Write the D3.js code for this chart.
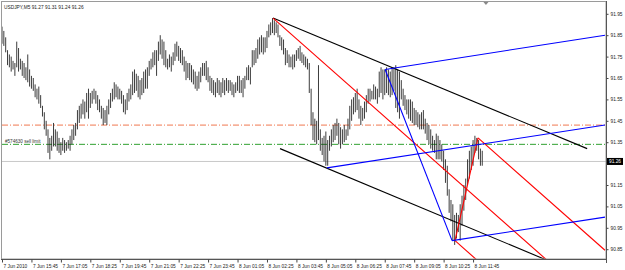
<!DOCTYPE html>
<html><head><meta charset="utf-8">
<script src="https://cdn.jsdelivr.net/npm/d3@7"></script>
<style>body{margin:0;background:#fff}svg{display:block}text{font-family:"Liberation Sans",Arial,sans-serif}</style>
</head><body><svg id="c" width="625" height="270"></svg>
<script>
// ---------- data ----------
const titleText = "USDJPY,M5  91.27 91.31 91.24 91.26";
const highs = [91.89,91.87,91.84,91.78,91.76,91.75,91.73,91.72,91.82,91.79,
91.74,91.73,91.72,91.70,91.76,91.69,91.66,91.65,91.62,91.60,
91.61,91.57,91.52,91.49,91.45,91.41,91.37,91.38,91.44,91.41,
91.40,91.37,91.35,91.37,91.36,91.35,91.36,91.38,91.41,91.43,
91.44,91.50,91.52,91.53,91.55,91.54,91.58,91.60,91.58,91.59,
91.60,91.59,91.57,91.55,91.52,91.51,91.50,91.52,91.55,91.58,
91.60,91.63,91.62,91.61,91.60,91.59,91.57,91.55,91.58,91.60,
91.62,91.68,91.69,91.67,91.66,91.64,91.65,91.68,91.69,91.70,
91.73,91.74,91.77,91.78,91.78,91.82,91.85,91.83,91.82,91.78,
91.74,91.76,91.75,91.77,91.81,91.82,91.80,91.79,91.78,91.75,
91.73,91.72,91.72,91.71,91.69,91.68,91.66,91.68,91.70,91.72,
91.72,91.73,91.70,91.66,91.65,91.64,91.63,91.65,91.64,91.63,
91.65,91.64,91.65,91.64,91.64,91.63,91.62,91.63,91.66,91.66,
91.64,91.65,91.66,91.70,91.71,91.70,91.78,91.78,91.79,91.83,
91.84,91.85,91.84,91.84,91.87,91.90,91.91,91.93,91.92,91.91,
91.90,91.85,91.84,91.83,91.79,91.78,91.76,91.75,91.76,91.76,
91.78,91.79,91.80,91.77,91.76,91.75,91.74,91.72,91.60,91.49,
91.46,91.45,91.71,91.41,91.37,91.38,91.40,91.36,91.38,91.41,
91.43,91.44,91.46,91.44,91.42,91.41,91.43,91.41,91.46,91.52,
91.55,91.56,91.58,91.60,91.55,91.52,91.51,91.54,91.57,91.60,
91.60,91.59,91.62,91.61,91.60,91.68,91.70,91.69,91.69,91.70,
91.69,91.68,91.70,91.70,91.71,91.69,91.68,91.64,91.60,91.57,
91.55,91.55,91.55,91.54,91.51,91.50,91.49,91.48,91.49,91.50,
91.46,91.44,91.43,91.41,91.38,91.36,91.39,91.38,91.36,91.34,
91.31,91.27,91.24,91.13,91.08,91.06,91.01,91.02,91.01,91.06,
91.10,91.15,91.18,91.27,91.31,91.33,91.36,91.38,91.37,91.36,
91.32,91.31];
const lows = [91.81,91.80,91.77,91.71,91.70,91.68,91.69,91.66,91.70,91.68,
91.69,91.66,91.65,91.64,91.63,91.61,91.60,91.59,91.56,91.55,
91.53,91.51,91.47,91.41,91.38,91.30,91.27,91.31,91.33,91.33,
91.31,91.30,91.29,91.31,91.30,91.31,91.32,91.31,91.34,91.36,
91.38,91.41,91.44,91.46,91.48,91.46,91.49,91.46,91.51,91.53,
91.55,91.53,91.50,91.49,91.46,91.43,91.44,91.43,91.48,91.51,
91.54,91.55,91.56,91.55,91.55,91.53,91.49,91.48,91.50,91.54,
91.55,91.57,91.58,91.59,91.56,91.55,91.57,91.58,91.60,91.60,
91.66,91.69,91.70,91.71,91.66,91.73,91.76,91.74,91.71,91.70,
91.69,91.70,91.68,91.71,91.73,91.75,91.73,91.72,91.71,91.68,
91.64,91.65,91.64,91.63,91.62,91.60,91.59,91.60,91.63,91.66,
91.66,91.64,91.63,91.59,91.58,91.57,91.56,91.58,91.57,91.56,
91.58,91.57,91.59,91.58,91.59,91.57,91.56,91.58,91.59,91.58,
91.58,91.56,91.60,91.64,91.64,91.62,91.70,91.71,91.72,91.74,
91.76,91.77,91.76,91.77,91.79,91.84,91.85,91.86,91.85,91.86,
91.84,91.80,91.78,91.76,91.71,91.72,91.70,91.70,91.69,91.70,
91.73,91.74,91.73,91.72,91.71,91.70,91.69,91.58,91.43,91.36,
91.35,91.34,91.36,91.31,91.29,91.26,91.24,91.24,91.31,91.33,
91.35,91.36,91.38,91.34,91.32,91.34,91.35,91.36,91.38,91.41,
91.45,91.48,91.49,91.50,91.46,91.43,91.45,91.46,91.49,91.53,
91.54,91.55,91.55,91.55,91.53,91.56,91.58,91.55,91.57,91.58,
91.57,91.56,91.57,91.59,91.51,91.49,91.46,91.55,91.52,91.50,
91.48,91.46,91.45,91.44,91.43,91.43,91.42,91.41,91.41,91.41,
91.39,91.36,91.34,91.32,91.31,91.30,91.27,91.27,91.27,91.26,
91.22,91.16,91.10,91.02,90.98,90.89,90.87,90.90,90.93,90.89,
90.96,91.03,91.08,91.15,91.18,91.22,91.24,91.30,91.31,91.27,
91.24,91.24];
const timeTickBars   = [0,16,32,48,64,80,96,112,128,144,160,176,192,208,224,240,256];
const timeTickLabels = ["7 Jun 2010","7 Jun 15:45","7 Jun 17:05","7 Jun 18:25","7 Jun 19:45",
  "7 Jun 21:05","7 Jun 22:25","7 Jun 23:45","8 Jun 01:05","8 Jun 02:25","8 Jun 03:45",
  "8 Jun 05:05","8 Jun 06:25","8 Jun 07:45","8 Jun 09:05","8 Jun 10:25","8 Jun 11:45"];
const priceTicks = [91.95,91.85,91.75,91.65,91.55,91.45,91.35,91.15,91.05,90.95,90.85];
const bidPrice = 91.26;
const takeLevel = 91.43;
const sellLimitLevel = 91.34;
const sellLimitLabel = "#574630 sell limit";
// trend objects: [barIndex1, price1, barIndex2, price2]
const blackChannel = [[147.3,91.93,318,91.32],[151.1,91.32,318,90.72]];
const blueFork = [[176.6,91.23,327.7,91.43],[208.2,91.69,327.7,91.85],[244.6,90.89,327.7,91.00],[208.2,91.69,244.6,90.89]];
const redFork  = [[147.3,91.93,296,90.80],[258.7,91.37,327.7,90.845],[246.2,90.89,258,90.80],[246.2,90.89,258.7,91.37]];

// ---------- drawing ----------
const svg = d3.select("#c");
const W=625,H=270, L=2, R=606, T=3, B=259;
svg.append("rect").attr("width",W).attr("height",H).attr("fill","#fff");
const x = d3.scaleLinear().domain([0,327.7]).range([L,605]);
const y = d3.scaleLinear().domain([90.85,91.95]).range([249.2,13.8]);

svg.append("defs").append("clipPath").attr("id","pl").append("rect")
  .attr("x",L).attr("y",T).attr("width",R-L).attr("height",B-T);
const plot = svg.append("g").attr("clip-path","url(#pl)");

// horizontal levels
plot.append("line").attr("x1",L).attr("x2",R).attr("y1",y(bidPrice)).attr("y2",y(bidPrice))
  .attr("stroke","#c8c8c8").attr("stroke-width",1);
plot.append("line").attr("x1",L).attr("x2",R).attr("y1",y(takeLevel)).attr("y2",y(takeLevel))
  .attr("stroke","#f07850").attr("stroke-width",1).attr("stroke-dasharray","6,2,1,2");
plot.append("line").attr("x1",L).attr("x2",R).attr("y1",y(sellLimitLevel)).attr("y2",y(sellLimitLevel))
  .attr("stroke","#30a030").attr("stroke-width",1).attr("stroke-dasharray","6,2,1,2");
plot.append("text").attr("x",5).attr("y",y(sellLimitLevel)-1.5).attr("font-size",4.6)
  .attr("fill","#333").text(sellLimitLabel);

// bars
plot.append("g").selectAll("line").data(highs).join("line")
  .attr("x1",(d,i)=>x(i)).attr("x2",(d,i)=>x(i))
  .attr("y1",d=>y(d)).attr("y2",(d,i)=>y(lows[i]))
  .attr("stroke","#1a1a1a").attr("stroke-width",0.85);

// trend objects
const drawSet=(set,color)=>plot.append("g").selectAll("line").data(set).join("line")
  .attr("x1",d=>x(d[0])).attr("y1",d=>y(d[1])).attr("x2",d=>x(d[2])).attr("y2",d=>y(d[3]))
  .attr("stroke",color).attr("stroke-width",1.1);
drawSet(blackChannel,"#000");
drawSet(redFork,"#ff0000");
drawSet(blueFork,"#0000ff");

// frame
svg.append("rect").attr("x",1.5).attr("y",1.5).attr("width",R-1.5).attr("height",B-1.5)
  .attr("fill","none").attr("stroke","#9a9a9a").attr("stroke-width",1);
svg.append("line").attr("x1",R+0.5).attr("x2",R+0.5).attr("y1",1).attr("y2",B+4).attr("stroke","#555");
svg.append("line").attr("x1",1).attr("x2",R+1).attr("y1",B+0.5).attr("y2",B+0.5).attr("stroke","#555");
// shift marker
svg.append("path").attr("d",`M${x(263)-2.5},2 L${x(263)+2.5},2 L${x(263)},5 Z`).attr("fill","#888");

// price axis
const ya = d3.axisRight(y).tickValues(priceTicks).tickFormat(d3.format(".2f")).tickSize(2).tickPadding(2);
const yg = svg.append("g").attr("transform",`translate(${R+0.5},0)`).call(ya);
yg.select(".domain").remove();
yg.selectAll("text").attr("font-size",4.8).attr("fill","#222").attr("font-family","Liberation Sans, Arial");
yg.selectAll("line").attr("stroke","#444");
// bid box
svg.append("rect").attr("x",R+1).attr("y",y(bidPrice)-3.5).attr("width",16).attr("height",7).attr("fill","#000");
svg.append("text").attr("x",R+3).attr("y",y(bidPrice)+1.7).attr("font-size",4.8).attr("fill","#fff").text(d3.format(".2f")(bidPrice));

// time axis
const xa = d3.axisBottom(x).tickValues(timeTickBars).tickFormat((d,i)=>timeTickLabels[i]).tickSize(3).tickPadding(1);
const xg = svg.append("g").attr("transform",`translate(0,${B+0.5})`).call(xa);
xg.select(".domain").remove();
xg.selectAll("line").attr("stroke","#444");
xg.selectAll("text").attr("font-size",4.8).attr("fill","#222").attr("text-anchor","start")
  .attr("dx",1).attr("dy",0).attr("y",8).attr("font-family","Liberation Sans, Arial");

// title
svg.append("text").attr("x",4).attr("y",8.5).attr("font-size",4.8).attr("fill","#222").text(titleText);
</script></body></html>
